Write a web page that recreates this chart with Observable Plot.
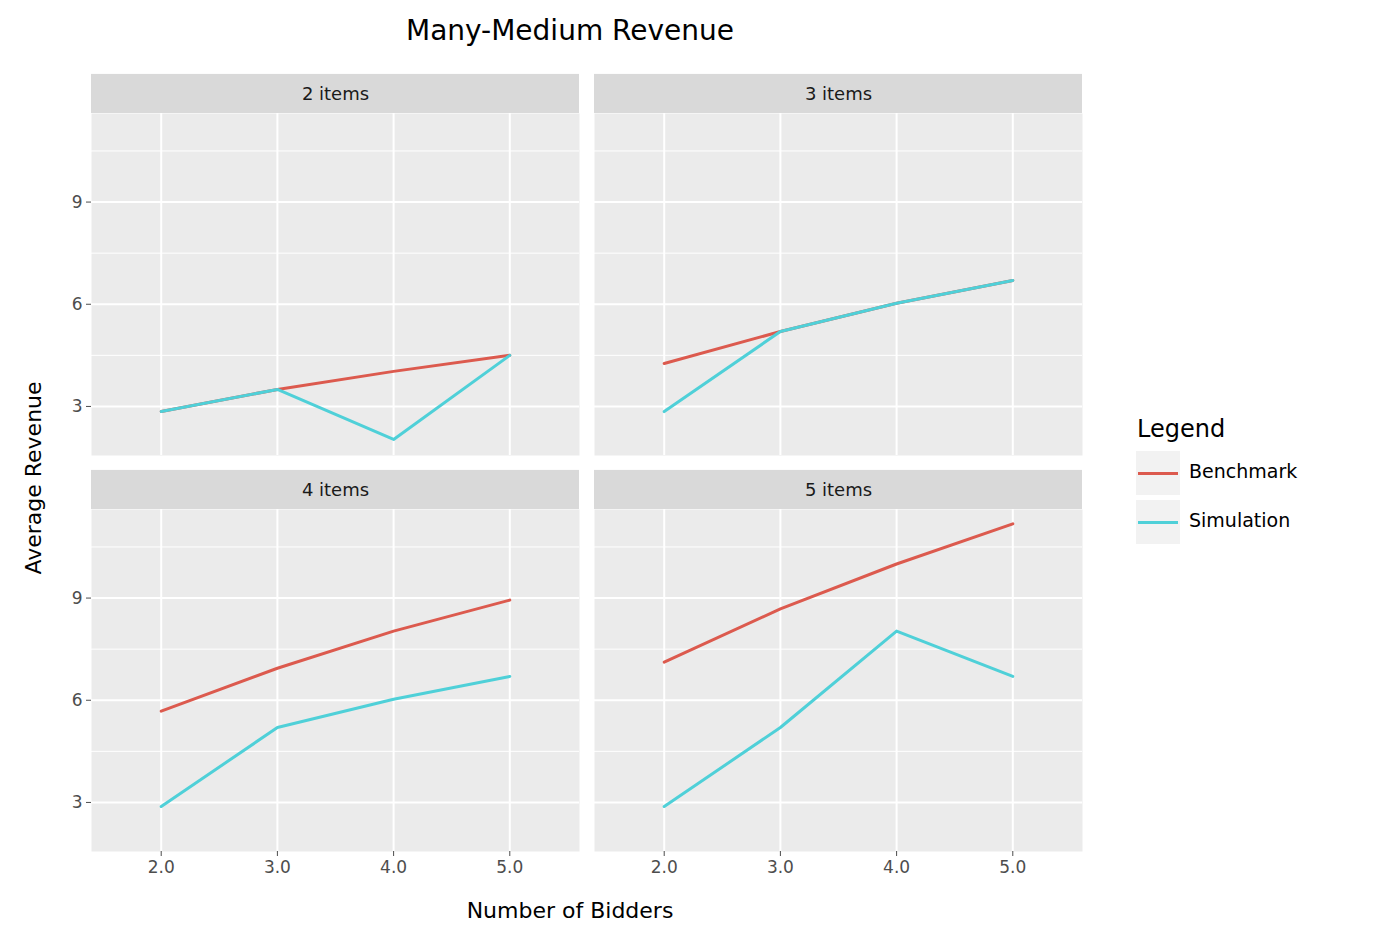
<!DOCTYPE html>
<html>
<head>
<meta charset="utf-8">
<script src="https://cdn.jsdelivr.net/npm/d3@7"></script>
<script src="https://cdn.jsdelivr.net/npm/@observablehq/plot@0.6"></script>
<style>
  body { margin: 0; font-family: "DejaVu Sans", sans-serif; background: #fff; }
  #wrap { position: relative; width: 1382px; height: 951px; }
  .abs { position: absolute; color: #000; white-space: nowrap; }
  .key { position: absolute; width: 44px; height: 44px; background: #f2f2f2; }
  .key i { position: absolute; left: 2px; right: 2px; top: 21px; height: 3px; }
</style>
</head>
<body>
<div id="wrap">
  <div class="abs" style="left:0;width:1140px;top:14px;text-align:center;font-size:28px;">Many-Medium Revenue</div>
  <div class="abs" style="left:0;width:1140px;top:898px;text-align:center;font-size:22px;">Number of Bidders</div>
  <div class="abs" style="left:33px;top:478px;font-size:22px;transform:translate(-50%,-50%) rotate(-90deg);">Average Revenue</div>
  <div class="abs" style="left:1137px;top:415px;font-size:24px;">Legend</div>
  <div class="key" style="left:1136px;top:451px;"><i style="background:#dc5a4e"></i></div>
  <div class="abs" style="left:1189px;top:460px;font-size:19px;">Benchmark</div>
  <div class="key" style="left:1136px;top:500px;"><i style="background:#4fd0d8"></i></div>
  <div class="abs" style="left:1189px;top:509px;font-size:19px;">Simulation</div>
  <div id="chart"></div>
</div>
<script>
const bidders = [2, 3, 4, 5];
const panels = ["2 items", "3 items", "4 items", "5 items"];
const benchmark = {
  "2 items": [2.85, 3.5, 4.03, 4.5],
  "3 items": [4.26, 5.2, 6.03, 6.7],
  "4 items": [5.68, 6.94, 8.03, 8.94],
  "5 items": [7.12, 8.68, 10.0, 11.18],
};
const simulation = {
  "2 items": [2.85, 3.5, 2.03, 4.5],
  "3 items": [2.85, 5.2, 6.03, 6.7],
  "4 items": [2.88, 5.2, 6.03, 6.7],
  "5 items": [2.88, 5.2, 8.03, 6.7],
};

const col = (p) => panels.indexOf(p) % 2;
const row = (p) => Math.floor(panels.indexOf(p) / 2);

const rows = [];
panels.forEach((p) => {
  bidders.forEach((b, i) => {
    rows.push({ panel: p, c: col(p), r: row(p), series: "Benchmark", x: b, y: benchmark[p][i] });
    rows.push({ panel: p, c: col(p), r: row(p), series: "Simulation", x: b, y: simulation[p][i] });
  });
});
const strips = panels.map((p) => ({ panel: p, c: col(p), r: row(p) }));

const X0 = 1.4, X1 = 5.6, Y0 = 1.56, Y1 = 11.6, STRIP = 39 / 34;

const plot = Plot.plot({
  width: 1382,
  height: 951,
  marginLeft: 90,
  marginRight: 300,
  marginTop: 113,
  marginBottom: 99,
  style: { fontFamily: "DejaVu Sans, sans-serif", background: "transparent" },
  fx: { axis: null, domain: [0, 1], padding: 0.03 },
  fy: { axis: null, domain: [0, 1], padding: 0.136 },
  x: { domain: [X0, X1] },
  y: { domain: [Y0, Y1] },
  color: { domain: ["Benchmark", "Simulation"], range: ["#dc5a4e", "#4fd0d8"] },
  marks: [
    Plot.frame({ fill: "#ebebeb" }),
    Plot.gridY([1.5, 4.5, 7.5, 10.5], { stroke: "white", strokeOpacity: 1, strokeWidth: 1 }),
    Plot.gridY([3, 6, 9], { stroke: "white", strokeOpacity: 1, strokeWidth: 2 }),
    Plot.gridX(bidders, { stroke: "white", strokeOpacity: 1, strokeWidth: 2 }),
    Plot.rect(strips, { fx: "c", fy: "r", x1: X0, x2: X1, y1: Y1, y2: Y1 + STRIP, fill: "#d9d9d9" }),
    Plot.text(strips, { fx: "c", fy: "r", x: (X0 + X1) / 2, y: Y1 + STRIP / 2, text: "panel", fontSize: 18, fill: "#1a1a1a" }),
    Plot.line(rows, { fx: "c", fy: "r", x: "x", y: "y", z: "series", stroke: "series", strokeWidth: 3 }),
    Plot.axisY([3, 6, 9], { tickSize: 5, fontSize: 17, color: "#4d4d4d", label: null, tickPadding: 4 }),
    Plot.axisX(bidders, { tickSize: 5, fontSize: 17, color: "#4d4d4d", label: null, tickPadding: 4 }),
  ],
});
document.getElementById("chart").appendChild(plot);
</script>
</body>
</html>
